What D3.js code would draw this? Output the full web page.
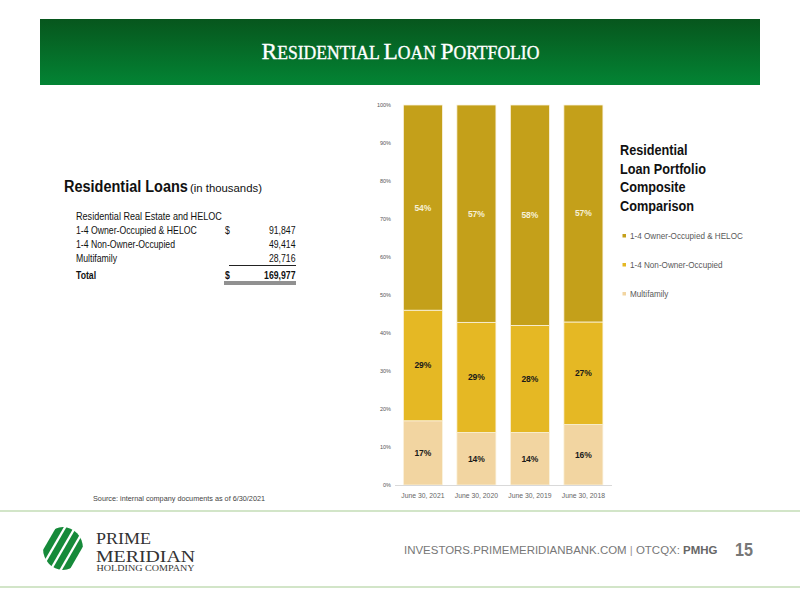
<!DOCTYPE html>
<html><head><meta charset="utf-8">
<script src="https://cdn.jsdelivr.net/npm/d3@7"></script>
<style>
body{margin:0;background:#fff;}
svg{display:block;}
</style></head>
<body>
<svg id="c" width="800" height="600" font-family="Liberation Sans, Arial, sans-serif"></svg>
<script>
// ---- data ----
const categories = ["June 30, 2021","June 30, 2020","June 30, 2019","June 30, 2018"];
const seriesNames = ["Multifamily","1-4 Non-Owner-Occupied","1-4 Owner-Occupied & HELOC"];
const multifamily = [16.9, 13.8, 13.8, 15.9];
const nonOwner = [29.1, 29.0, 28.2, 27.0];
const ownerOcc = [54.0, 57.2, 58.0, 57.1];
const yTicks = [0,10,20,30,40,50,60,70,80,90,100];
const tableRows = ["1-4 Owner-Occupied & HELOC","1-4 Non-Owner-Occupied","Multifamily"];
const tableValues = ["91,847","49,414","28,716"];
const tableTotal = "169,977";
const legendOrder = ["1-4 Owner-Occupied & HELOC","1-4 Non-Owner-Occupied","Multifamily"];
const legendTitle = ["Residential","Loan Portfolio","Composite","Comparison"];

const colors = {"1-4 Owner-Occupied & HELOC":"#c4a01a","1-4 Non-Owner-Occupied":"#e5b824","Multifamily":"#f2d5a1"};
const labelColors = {"1-4 Owner-Occupied & HELOC":"#f6f0d8","1-4 Non-Owner-Occupied":"#1a1a1a","Multifamily":"#1a1a1a"};

const svg = d3.select("#c");
const defs = svg.append("defs");
const g1 = defs.append("linearGradient").attr("id","hdr").attr("x1",0).attr("y1",0).attr("x2",0).attr("y2",1);
g1.append("stop").attr("offset","0%").attr("stop-color","#07561d");
g1.append("stop").attr("offset","100%").attr("stop-color","#038434");

// measure helper: horizontal scale so that a sample string has a given width (narrow-font look)
function scaleFor(sample, size, bold, width){
  const t = svg.append("text").attr("font-size",size).attr("font-weight",bold?"bold":"normal").text(sample);
  const w = t.node().getComputedTextLength();
  t.remove();
  return width / w;
}
function nt(parent, x, y, txt, size, opt){
  opt = opt || {};
  const g = parent.append("g").attr("transform",`translate(${x},${y}) scale(${opt.sx||0.82},1)`);
  return g.append("text").attr("x",0).attr("y",0).attr("font-size",size)
    .attr("fill",opt.fill||"#111").attr("font-weight",opt.bold?"bold":"normal")
    .attr("text-anchor",opt.anchor||"start").text(txt);
}

// header
svg.append("rect").attr("x",40).attr("y",19).attr("width",720).attr("height",66).attr("fill","url(#hdr)");
const hg = svg.append("g");
const ht = hg.append("text").attr("x",0).attr("y",0)
  .attr("font-family","Liberation Serif, Times New Roman, serif").attr("fill","#fff")
  .attr("stroke","#fff").attr("stroke-width",0.35);
[["R","ESIDENTIAL "],["L","OAN "],["P","ORTFOLIO"]].forEach(p=>{
  ht.append("tspan").attr("font-size",24).text(p[0]);
  ht.append("tspan").attr("font-size",18).text(p[1]);
});
const hw = ht.node().getComputedTextLength();
hg.attr("transform",`translate(261.5,59.3) scale(${278/hw},1)`);

// ---- chart ----
const x = d3.scaleBand().domain(categories).range([390,616.3]).paddingInner(0.27).paddingOuter(0.25);
const y = d3.scaleLinear().domain([0,100]).range([485,105]);

const rows = categories.map((c,i)=>({cat:c,"Multifamily":multifamily[i],"1-4 Non-Owner-Occupied":nonOwner[i],"1-4 Owner-Occupied & HELOC":ownerOcc[i]}));
const stack = d3.stack().keys(seriesNames)(rows);

const gc = svg.append("g");
const layers = gc.selectAll("g.layer").data(stack).join("g").attr("class","layer").attr("fill",d=>colors[d.key]);
layers.selectAll("rect").data(d=>d).join("rect")
  .attr("x",d=>x(d.data.cat)).attr("width",x.bandwidth())
  .attr("y",d=>y(d[1])).attr("height",d=>y(d[0])-y(d[1]))
  .attr("stroke","#fbf3df").attr("stroke-width",0.8);

stack.forEach(layer=>{
  gc.selectAll(null).data(layer).join("text")
    .attr("x",d=>x(d.data.cat)+x.bandwidth()/2)
    .attr("y",d=>y((d[0]+d[1])/2)+3)
    .attr("text-anchor","middle").attr("font-size",8.5).attr("font-weight","bold")
    .attr("fill",labelColors[layer.key])
    .text(d=>Math.round(d[1]-d[0])+"%");
});

// baseline
svg.append("line").attr("x1",395).attr("x2",612).attr("y1",y(0)+0.5).attr("y2",y(0)+0.5).attr("stroke","#d9d9d9").attr("stroke-width",1);

const yAxis = svg.append("g").attr("transform","translate(391,0)")
  .call(d3.axisLeft(y).tickValues(yTicks).tickFormat(d=>d+"%").tickSize(0).tickPadding(0));
yAxis.select(".domain").remove();
yAxis.selectAll("text").attr("font-size",5.5).attr("fill","#555").attr("font-family","Liberation Sans, Arial, sans-serif");

const xAxis = svg.append("g").attr("transform","translate(0,"+(y(0)+5)+")")
  .call(d3.axisBottom(x).tickSize(0).tickPadding(3));
xAxis.select(".domain").remove();
xAxis.selectAll("text").attr("font-size",6.8).attr("fill","#666").attr("font-family","Liberation Sans, Arial, sans-serif");

// legend
const sxLT = scaleFor("Loan Portfolio", 14.5, true, 86);
legendTitle.forEach((t,i)=>{
  nt(svg, 620, 155+i*18.7, t, 14.5, {bold:true, sx:sxLT});
});
const sxLg = scaleFor(legendOrder[0], 9.5, false, 113);
legendOrder.forEach((k,i)=>{
  const yy = 236 + i*29;
  svg.append("rect").attr("x",622.5).attr("y",yy-2).attr("width",3.5).attr("height",3.5).attr("fill",colors[k]);
  nt(svg, 630, yy+3.3, k, 9.5, {fill:"#595959", sx:sxLg});
});

// ---- table ----
nt(svg, 64, 192, "Residential Loans", 17, {bold:true, sx:scaleFor("Residential Loans",17,true,124)});
nt(svg, 190, 192, "(in thousands)", 11.5, {sx:scaleFor("(in thousands)",11.5,false,72)});
nt(svg, 76, 220, "Residential Real Estate and HELOC", 10, {sx:scaleFor("Residential Real Estate and HELOC",10,false,146)});
const sxT = scaleFor(tableRows[0], 10, false, 121);
tableRows.forEach((r,i)=>{
  const yy = 234 + i*14;
  nt(svg, 76, yy, r, 10, {sx:sxT});
  nt(svg, 295.5, yy, tableValues[i], 10, {anchor:"end", sx:sxT});
  if(i===0) nt(svg, 225, yy, "$", 10, {sx:sxT});
});
svg.append("line").attr("x1",229).attr("x2",296).attr("y1",265.5).attr("y2",265.5).attr("stroke","#222").attr("stroke-width",1.2);
nt(svg, 76, 279, "Total", 10, {bold:true, sx:sxT});
nt(svg, 225, 279, "$", 10, {bold:true, sx:sxT});
nt(svg, 295.5, 279, tableTotal, 10, {bold:true, anchor:"end", sx:sxT});
svg.append("line").attr("x1",224).attr("x2",296).attr("y1",282).attr("y2",282).attr("stroke","#222").attr("stroke-width",1);
svg.append("line").attr("x1",224).attr("x2",296).attr("y1",284).attr("y2",284).attr("stroke","#222").attr("stroke-width",1);

svg.append("text").attr("x",93).attr("y",501).attr("font-size",7.5).attr("fill","#444")
  .attr("textLength",172).attr("lengthAdjust","spacingAndGlyphs")
  .text("Source: internal company documents as of 6/30/2021");

// ---- footer ----
svg.append("line").attr("x1",0).attr("x2",800).attr("y1",511).attr("y2",511).attr("stroke","#a5cc92").attr("stroke-width",1.2);
svg.append("line").attr("x1",0).attr("x2",800).attr("y1",587).attr("y2",587).attr("stroke","#a5cc92").attr("stroke-width",1.2);

const fg = svg.append("g");
const ft = fg.append("text").attr("x",0).attr("y",0).attr("font-size",11.5).attr("fill","#777");
ft.append("tspan").text("INVESTORS.PRIMEMERIDIANBANK.COM ");
ft.append("tspan").attr("fill","#999").text(" | ");
ft.append("tspan").text(" OTCQX: ");
ft.append("tspan").attr("font-weight","bold").attr("fill","#666").text("PMHG");
fg.attr("transform",`translate(404,554) scale(${314/ft.node().getComputedTextLength()},1)`);
nt(svg, 735, 556, "15", 19, {bold:true, fill:"#777", sx:0.85});

// logo
defs.append("clipPath").attr("id","lc").append("ellipse").attr("cx",63).attr("cy",548.5).attr("rx",20).attr("ry",21.5);
const lg = svg.append("g").attr("clip-path","url(#lc)");
[0,1,2,3].forEach(i=>{
  lg.append("rect").attr("x",-30).attr("y",-3.5).attr("width",60).attr("height",6.5)
    .attr("fill","#168a3a")
    .attr("transform",`translate(${50+i*9},${545+i*2}) rotate(-60)`);
});
const logoFont = "Liberation Serif, Times New Roman, serif";
svg.append("text").attr("x",96).attr("y",543.5).attr("font-family",logoFont).attr("font-size",17).attr("fill","#333").attr("textLength",55).attr("lengthAdjust","spacingAndGlyphs").text("PRIME");
svg.append("text").attr("x",96).attr("y",561.5).attr("font-family",logoFont).attr("font-size",17).attr("fill","#333").attr("textLength",99).attr("lengthAdjust","spacingAndGlyphs").text("MERIDIAN");
svg.append("text").attr("x",96.5).attr("y",571).attr("font-family",logoFont).attr("font-size",7.5).attr("fill","#333").attr("textLength",98).attr("lengthAdjust","spacingAndGlyphs").text("HOLDING COMPANY");
</script>
</body></html>
